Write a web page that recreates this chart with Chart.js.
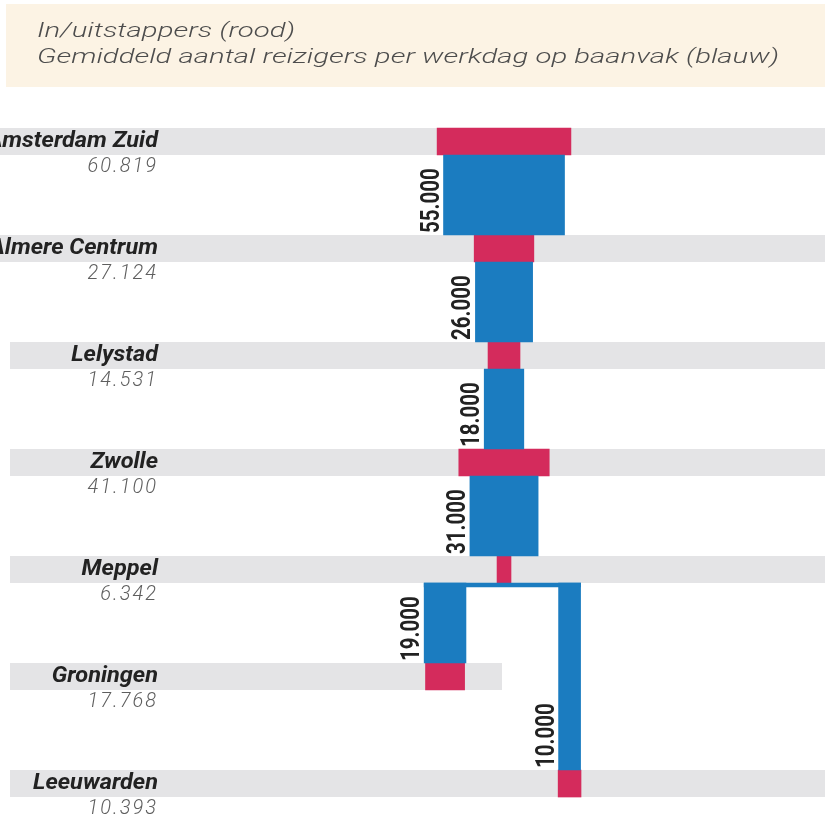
<!DOCTYPE html>
<html lang="nl">
<head>
<meta charset="UTF-8">
<title>Reizigers per baanvak</title>
<script src="https://cdn.jsdelivr.net/npm/chart.js"></script>
<style>
    body { margin: 0; background: #fff; overflow: hidden; }
    .wrap { position: relative; width: 825px; height: 814px; }
</style>
</head>
<body>
<div class="wrap"><canvas id="flowChart"></canvas></div>
<script>
// stations along the line, top to bottom
const stations = ['Amsterdam Zuid', 'Almere Centrum', 'Lelystad', 'Zwolle', 'Meppel', 'Groningen', 'Leeuwarden'];
// in/uitstappers per station
const inOut = [60819, 27124, 14531, 41100, 6342, 17768, 10393];
// travellers per werkdag on each baanvak (from -> to station index)
const flowFrom = [0, 1, 2, 3, 4, 4];
const flowTo = [1, 2, 3, 4, 5, 6];
const flowValues = [55000, 26000, 18000, 31000, 19000, 10000];

// horizontal centre of each station column, in travellers; the line splits after Meppel
const stationCentre = [0, 0, 0, 0, 0, -26800, 29800];

const ROW = 107;   // px between two stations
const BAND = 27;   // height of a station band
const RED = '#d42b5c';
const BLUE = '#1b7cc0';
const GREY = '#e4e4e6';

function fmt(n) {
    return String(n).replace(/\B(?=(\d{3})+(?!\d))/g, '.');
}

const redBars = stations.map((s, i) => ({
    y: i,
    x: [stationCentre[i] - inOut[i] / 2, stationCentre[i] + inOut[i] / 2]
}));

function flowBar(k) {
    const c = stationCentre[flowTo[k]];
    return {
        y: (flowFrom[k] + flowTo[k]) / 2,
        x: [c - flowValues[k] / 2, c + flowValues[k] / 2],
        label: fmt(flowValues[k])
    };
}
const flowIdx = flowValues.map((v, k) => k);
const shortFlows = flowIdx.filter(k => flowTo[k] - flowFrom[k] === 1).map(flowBar);
const longFlows = flowIdx.filter(k => flowTo[k] - flowFrom[k] === 2).map(flowBar);

// thin bar under Meppel joining the two branches
const split = 4;
const branchIdx = flowIdx.filter(k => flowFrom[k] === split);
const connector = [{
    y: split + (BAND / 2 + 2) / ROW,
    x: [Math.min(...branchIdx.map(k => stationCentre[flowTo[k]] - flowValues[k] / 2)),
        Math.max(...branchIdx.map(k => stationCentre[flowTo[k]] + flowValues[k] / 2))]
}];

function fitText(ctx, text, x, y, width) {
    const w = ctx.measureText(text).width;
    ctx.save();
    ctx.translate(x, y);
    ctx.scale(width / w, 1);
    ctx.fillText(text, 0, 0);
    ctx.restore();
}

function stretchText(ctx, text, x, y, sx) {
    ctx.save();
    ctx.translate(x, y);
    ctx.scale(sx, 1);
    ctx.fillText(text, 0, 0);
    ctx.restore();
}

const decorations = {
    id: 'decorations',
    beforeDraw(chart) {
        const ctx = chart.ctx;
        ctx.save();
        ctx.fillStyle = '#fcf3e4';
        ctx.fillRect(6, 4, chart.width - 6, 83);
        ctx.fillStyle = '#4d4d4d';
        ctx.font = 'italic 300 20px Roboto';
        fitText(ctx, 'In/uitstappers (rood)', 37, 37, 258);
        fitText(ctx, 'Gemiddeld aantal reizigers per werkdag op baanvak (blauw)', 37, 63, 742);
        ctx.restore();
    },
    beforeDatasetsDraw(chart) {
        const ctx = chart.ctx;
        const ys = chart.scales.y;
        const xs = chart.scales.x;
        ctx.save();
        ctx.fillStyle = GREY;
        stations.forEach((s, i) => {
            const y = ys.getPixelForValue(i);
            const left = i < 2 ? 0 : 10;
            const right = stationCentre[i] < 0 ? xs.getPixelForValue(0) - 2 : chart.chartArea.right;
            ctx.fillRect(left, y - BAND / 2, right - left, BAND);
        });
        ctx.restore();
    },
    afterDatasetsDraw(chart) {
        const ctx = chart.ctx;
        const ys = chart.scales.y;
        ctx.save();
        // station names and in/uitstappers
        ctx.textAlign = 'right';
        ctx.textBaseline = 'alphabetic';
        stations.forEach((s, i) => {
            const y = ys.getPixelForValue(i);
            ctx.fillStyle = '#222';
            ctx.font = 'italic bold 22px Roboto';
            ctx.letterSpacing = '0px';
            stretchText(ctx, s, 158, y + 5, 1.07);
            ctx.fillStyle = '#5e5e5e';
            ctx.font = 'italic 300 20px Roboto';
            ctx.letterSpacing = '2px';
            ctx.fillText(fmt(inOut[i]), 158, y + 30);
        });
        ctx.letterSpacing = '0px';
        // rotated values beside the blue bars
        [1, 2].forEach(di => {
            const meta = chart.getDatasetMeta(di);
            meta.data.forEach((el, j) => {
                const left = Math.min(el.x, el.base);
                const bottom = el.y + el.height / 2;
                ctx.save();
                ctx.translate(left - 5, bottom - 2);
                ctx.rotate(-Math.PI / 2);
                ctx.scale(0.82, 1);
                ctx.textAlign = 'left';
                ctx.fillStyle = '#222';
                ctx.font = 'bold 25px Roboto';
                ctx.fillText(chart.data.datasets[di].data[j].label, 0, 0);
                ctx.restore();
            });
        });
        ctx.restore();
    }
};

new Chart(document.getElementById('flowChart'), {
    type: 'bar',
    data: {
        datasets: [
            { label: 'Verbindingsstuk', data: connector, backgroundColor: BLUE, barThickness: 4 },
            { label: 'Baanvak', data: shortFlows, backgroundColor: BLUE, barThickness: ROW - BAND },
            { label: 'Baanvak (lang)', data: longFlows, backgroundColor: BLUE, barThickness: 2 * ROW - BAND },
            { label: 'In/uitstappers', data: redBars, backgroundColor: RED, barThickness: BAND }
        ]
    },
    options: {
        indexAxis: 'y',
        responsive: true,
        maintainAspectRatio: false,
        animation: false,
        grouped: false,
        layout: { padding: { top: 100, left: 0, right: 0, bottom: 0 } },
        scales: {
            x: { type: 'linear', min: -229100, max: 145900, display: false },
            y: { type: 'linear', min: -0.388, max: -0.388 + 714 / ROW, reverse: true, offset: false, display: false }
        },
        plugins: {
            legend: { display: false },
            tooltip: { enabled: false }
        }
    },
    plugins: [decorations]
});
</script>
</body>
</html>
